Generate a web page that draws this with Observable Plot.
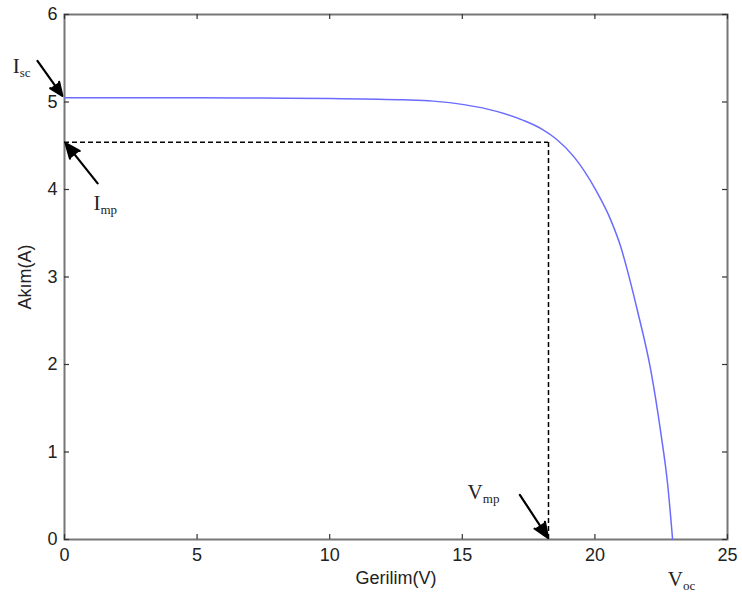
<!DOCTYPE html>
<html><head><meta charset="utf-8">
<script src="https://cdn.jsdelivr.net/npm/d3@7"></script>
<script src="https://cdn.jsdelivr.net/npm/@observablehq/plot@0.6"></script>
<style>body{margin:0;background:#fff}</style>
</head><body><div id="chart"></div>
<script>
// I-V curve (voltage V, current A)
const voltage = [0, 2.5, 5, 7.5, 10, 12.8, 13.9, 15.06, 16.33, 17.3, 18.0, 18.53, 19.22, 20.04, 20.6, 20.98, 21.23, 21.6, 22.11, 22.49, 22.74, 22.93];
const current = [5.05, 5.05, 5.05, 5.045, 5.04, 5.025, 5.01, 4.97, 4.89, 4.79, 4.69, 4.58, 4.37, 3.99, 3.65, 3.34, 3.07, 2.62, 1.93, 1.21, 0.64, 0.0];
// maximum power point
const mppV = [18.25];
const mppI = [4.54];
// tick values
const xTicks = [0, 5, 10, 15, 20, 25];
const yTicks = [0, 1, 2, 3, 4, 5, 6];
// annotations (labels and arrows, data units)
const noteText = ["I_sc", "I_mp", "V_mp", "V_oc"];
const noteX = [-1.95, 1.09, 15.2, 22.75];
const noteY = [5.41, 3.84, 0.54, -0.45];
const arrowX1 = [-1.02, 1.25, 17.17];
const arrowY1 = [5.47, 4.07, 0.51];
const arrowX2 = [-0.08, 0.04, 18.23];
const arrowY2 = [5.07, 4.53, 0.02];

const W = 742, H = 600, mL = 64, mR = 15, mT = 14, mB = 61;
const pW = W - mL - mR, pH = H - mT - mB;
const curve = voltage.map((v, i) => ({v, i: current[i]}));
const notes = noteText.map((t, k) => ({t, x: noteX[k], y: noteY[k]}));
const arrows = arrowX1.map((x1, k) => ({x1, y1: arrowY1[k], x2: arrowX2[k], y2: arrowY2[k]}));
const grey = "#777";

const chart = Plot.plot({
  width: W, height: H,
  marginLeft: mL, marginRight: mR, marginTop: mT, marginBottom: mB,
  style: {fontFamily: "'Liberation Sans', Arial, sans-serif", fontSize: "18px", background: "#fff", color: "#222"},
  x: {domain: [0, 25]},
  y: {domain: [0, 6]},
  marks: [
    Plot.frame({stroke: grey, strokeWidth: 2}),
    Plot.tickX(xTicks, {x: d => d, insetTop: pH - 5, stroke: "#333", strokeWidth: 1.2}),
    Plot.tickX(xTicks, {x: d => d, insetBottom: pH - 5, stroke: "#333", strokeWidth: 1.2}),
    Plot.tickY(yTicks, {y: d => d, insetRight: pW - 5, stroke: "#333", strokeWidth: 1.2}),
    Plot.tickY(yTicks, {y: d => d, insetLeft: pW - 5, stroke: "#333", strokeWidth: 1.2}),
    Plot.axisX({ticks: xTicks, tickSize: 0, tickPadding: 9, tickFormat: d3.format("d"), label: null, fontSize: 18}),
    Plot.axisY({ticks: yTicks, tickSize: 0, tickPadding: 7, tickFormat: d3.format("d"), label: null, fontSize: 18}),
    Plot.axisX({ticks: [], label: "Gerilim(V)", labelAnchor: "center", labelArrow: "none", labelOffset: 44, fontSize: 18}),
    Plot.axisY({ticks: [], label: "Akım(A)", labelAnchor: "center", labelArrow: "none", labelOffset: 46, fontSize: 18}),
    Plot.ruleY(mppI, {y: d => d, x1: 0, x2: mppV[0], stroke: "#000", strokeWidth: 1.5, strokeDasharray: "5,3"}),
    Plot.ruleX(mppV, {x: d => d, y1: 0, y2: mppI[0], stroke: "#000", strokeWidth: 1.5, strokeDasharray: "5,3"}),
    Plot.line(curve, {x: "v", y: "i", curve: "monotone-x", stroke: "#6b6bff", strokeWidth: 1.5}),
    Plot.arrow(arrows, {x1: "x1", y1: "y1", x2: "x2", y2: "y2", stroke: "#000", fill: "#000", strokeWidth: 2.2, headLength: 11, headAngle: 45}),
    Plot.text(notes, {x: "x", y: "y", text: "t", textAnchor: "start", fontSize: 21, fontFamily: "'Liberation Serif', 'Times New Roman', serif", fill: "#222", className: "note"})
  ]
});
// render subscripts
d3.select(chart).selectAll(".note text").each(function () {
  const parts = this.textContent.split("_");
  const sel = d3.select(this);
  sel.text(null);
  sel.append("tspan").text(parts[0]);
  sel.append("tspan").attr("dy", "0.3em").attr("font-size", 13).text(parts[1]);
});
document.getElementById("chart").append(chart);
</script>
</body></html>
